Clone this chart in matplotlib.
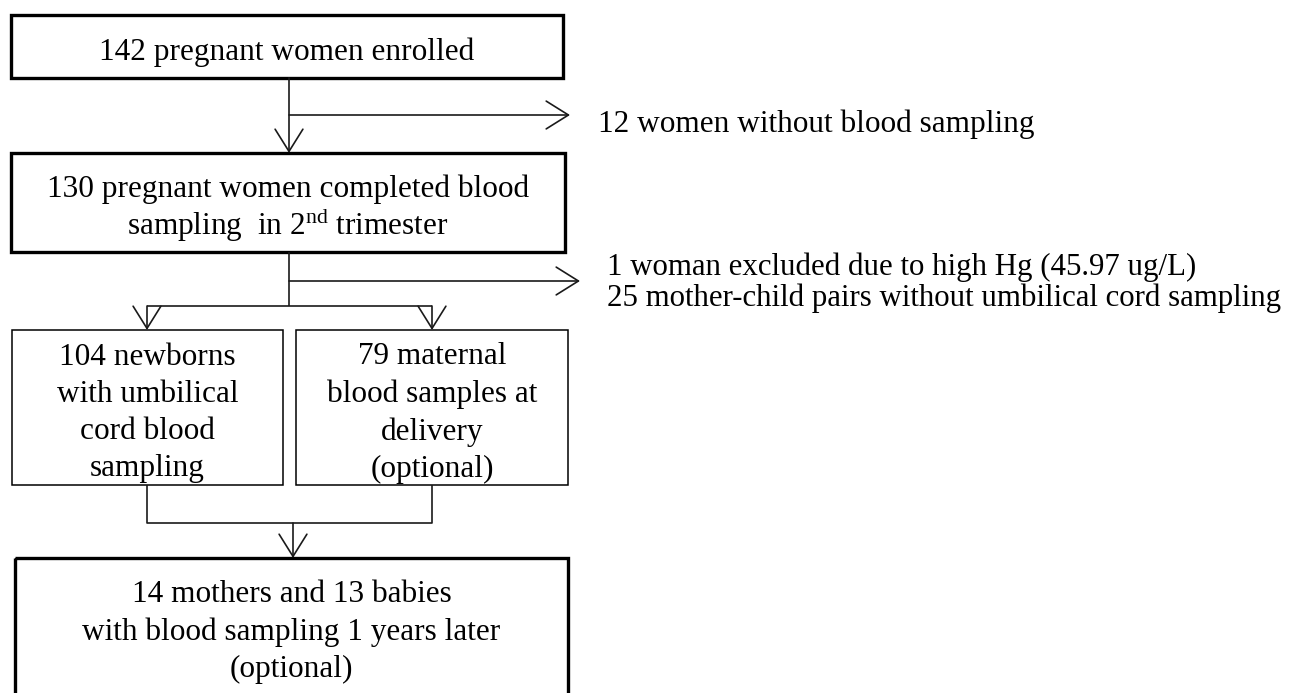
import matplotlib.pyplot as plt
from matplotlib.patches import Rectangle

plt.rcParams['font.family'] = ['Liberation Serif', 'DejaVu Serif']
plt.rcParams['mathtext.fontset'] = 'custom'
plt.rcParams['mathtext.rm'] = 'Liberation Serif'

# flow chart labels
box_labels = [
    '142 pregnant women enrolled',
    '130 pregnant women completed blood\nsampling  in 2$^{\\mathrm{nd}}$ trimester',
    '104 newborns\nwith umbilical\ncord blood\nsampling',
    '79 maternal\nblood samples at\ndelivery\n(optional)',
    '14 mothers and 13 babies\nwith blood sampling 1 years later\n(optional)',
]
excluded_1 = ['12 women without blood sampling']
excluded_2 = ['1 woman excluded due to high Hg (45.97 ug/L)',
              '25 mother-child pairs without umbilical cord sampling']

# layout in pixel coords (x0, y0, x1, y1), y downwards
boxes = [(11, 15, 563, 78), (11, 153, 565, 252), (12, 330, 283, 485),
         (296, 330, 568, 485), (15, 558, 568, 720)]
box_lw = [2.4, 2.4, 1.1, 1.1, 2.4]
text_y = [52, 209.5, 413, 413, 632]
spacing = [1.3, 1.02, 1.37, 1.37, 1.35]
FS = 22.5

fig = plt.figure(figsize=(12.9, 6.93), dpi=100)
ax = fig.add_axes([0, 0, 1, 1])
ax.set_xlim(0, 1290)
ax.set_ylim(693, 0)
ax.axis('off')

for (x0, y0, x1, y1), lw, label, ty, ls in zip(boxes, box_lw, box_labels,
                                               text_y, spacing):
    ax.add_patch(Rectangle((x0, y0), x1 - x0, y1 - y0, fill=False,
                           edgecolor='black', lw=lw))
    ax.text((x0 + x1) / 2, ty, label, ha='center', va='center',
            fontsize=FS, linespacing=ls)

line_kw = dict(color='#1a1a1a', lw=1.2, solid_capstyle='butt')
arrow_kw = dict(arrowstyle='->,head_length=0.8,head_width=0.5',
                color='#1a1a1a', lw=1.2, shrinkA=0, shrinkB=0,
                mutation_scale=20)


def arrow(x0, y0, x1, y1):
    ax.annotate('', xy=(x1, y1), xytext=(x0, y0), arrowprops=arrow_kw)


# top section
arrow(289, 78, 289, 153)
arrow(289, 115, 570, 115)
ax.text(598, 124, excluded_1[0], ha='left', va='center', fontsize=FS)

# middle section
ax.plot([289, 289], [252, 306], **line_kw)
arrow(289, 281, 580, 281)
for i, t in enumerate(excluded_2):
    ax.text(607, 267 + 31 * i, t, ha='left', va='center', fontsize=22.2)
ax.plot([147, 432], [306, 306], **line_kw)
arrow(147, 306, 147, 330)
arrow(432, 306, 432, 330)

# join to bottom box
ax.plot([147, 147, 432, 432], [485, 523, 523, 485], **line_kw)
arrow(293, 523, 293, 558)

fig.savefig('out.png', dpi=100)
